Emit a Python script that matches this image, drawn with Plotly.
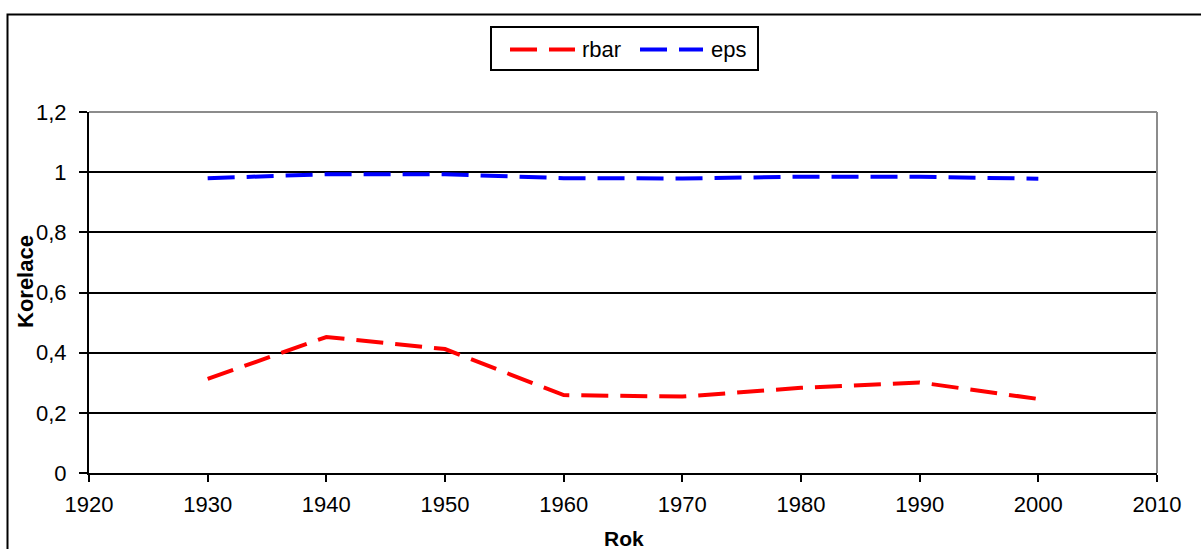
import plotly.graph_objects as go

years = [1930, 1940, 1950, 1960, 1970, 1980, 1990, 2000]
rbar = [0.313, 0.452, 0.412, 0.259, 0.254, 0.283, 0.301, 0.246]
eps = [0.980, 0.993, 0.993, 0.980, 0.979, 0.985, 0.985, 0.978]
x_ticks = [1920, 1930, 1940, 1950, 1960, 1970, 1980, 1990, 2000, 2010]
y_ticks = [0, 0.2, 0.4, 0.6, 0.8, 1.0, 1.2]
y_labels = ["0", "0,2", "0,4", "0,6", "0,8", "1", "1,2"]
series_names = ["rbar", "eps"]
series_colors = ["#ff0000", "#0000ff"]

FONT = "Liberation Sans, Arial, sans-serif"
DASH = "27px,12px"

fig = go.Figure()
for name, vals, col in zip(series_names, [rbar, eps], series_colors):
    fig.add_trace(go.Scatter(x=years, y=vals, mode="lines", name=name, showlegend=False,
                             line=dict(color=col, width=4, dash=DASH)))

# paper-coordinate helpers (plot area: x 89..1157 px, y 112..473 px)
def px_x(p):
    return (p - 89) / 1068.0

def px_y(p):
    return (473 - p) / 361.0

shapes = [
    dict(type="line", xref="paper", yref="paper", x0=0, x1=1, y0=1, y1=1,
         line=dict(color="#8c8c8c", width=2), layer="above"),
    dict(type="line", xref="paper", yref="paper", x0=1, x1=1, y0=0, y1=1,
         line=dict(color="#8c8c8c", width=2), layer="above"),
    dict(type="rect", xref="paper", yref="paper", x0=px_x(7.5), x1=1.2, y0=-0.3, y1=px_y(14.5),
         line=dict(color="black", width=2), layer="below"),
    # legend box
    dict(type="rect", xref="paper", yref="paper", x0=px_x(491), x1=px_x(758),
         y0=px_y(70), y1=px_y(27), line=dict(color="black", width=2),
         fillcolor="white", layer="above"),
]
annotations = [
    dict(text="<b>Rok</b>", xref="paper", yref="paper", x=px_x(623.5), y=px_y(538),
         xanchor="center", yanchor="middle", showarrow=False,
         font=dict(family=FONT, size=21)),
    dict(text="<b>Korelace</b>", xref="paper", yref="paper", x=px_x(25), y=px_y(282),
         xanchor="center", yanchor="middle", showarrow=False, textangle=-90,
         font=dict(family=FONT, size=22)),
]
leg_y = px_y(49.5)
leg_items = [(510, 575, 580), (640, 703, 709)]
for (lx0, lx1, tx), name, col in zip(leg_items, series_names, series_colors):
    shapes.append(dict(type="line", xref="paper", yref="paper", x0=px_x(lx0), x1=px_x(lx1),
                       y0=leg_y, y1=leg_y, line=dict(color=col, width=4, dash=DASH),
                       layer="above"))
    annotations.append(dict(text=name, xref="paper", yref="paper", x=px_x(tx), y=leg_y,
                            xanchor="left", yanchor="middle", showarrow=False,
                            font=dict(family=FONT, size=22, color="black")))

fig.update_layout(
    width=1201, height=549,
    margin=dict(l=89, r=44, t=112, b=76),
    paper_bgcolor="white", plot_bgcolor="white",
    font=dict(family=FONT, size=22, color="black"),
    showlegend=False,
    xaxis=dict(range=[1920, 2010], tickvals=x_ticks, ticktext=[str(v) for v in x_ticks],
               showgrid=False, zeroline=False, showline=True, linecolor="black", linewidth=2,
               ticks="outside", ticklen=7, tickwidth=1.5, tickcolor="black",
               ticklabelstandoff=4,
               tickfont=dict(family=FONT, size=22)),
    yaxis=dict(range=[0, 1.2], tickvals=y_ticks, ticktext=y_labels,
               showgrid=True, gridcolor="black", gridwidth=1.5, zeroline=False,
               showline=True, linecolor="black", linewidth=2,
               ticks="outside", ticklen=8, tickwidth=1.5, tickcolor="black",
               ticklabelstandoff=8,
               tickfont=dict(family=FONT, size=22)),
    shapes=shapes,
    annotations=annotations,
)

fig.write_html("out.html")
